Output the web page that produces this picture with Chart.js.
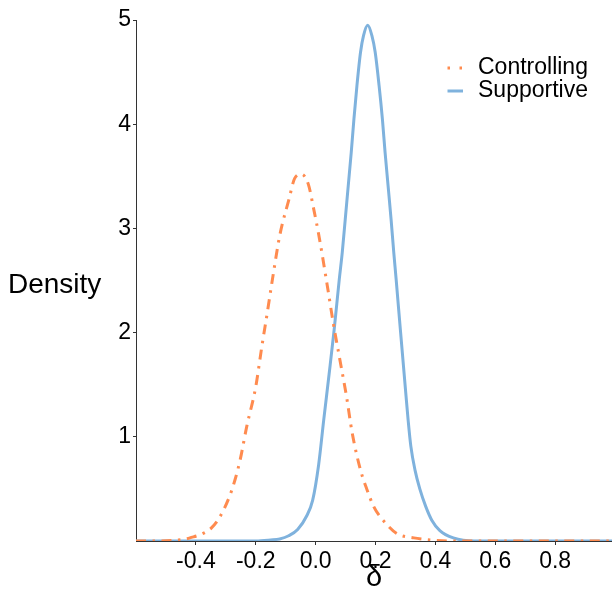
<!DOCTYPE html>
<html>
<head>
<meta charset="utf-8">
<script src="https://cdn.jsdelivr.net/npm/chart.js@4.4.1/dist/chart.umd.min.js"></script>
<style>
  html, body { margin: 0; padding: 0; background: #ffffff; }
  #wrap { width: 612px; height: 604px; }
</style>
</head>
<body>
<div id="wrap"><canvas id="c" width="612" height="604"></canvas></div>
<script>
// Posterior density of δ for the two parenting styles
const seriesNames = ['Controlling', 'Supportive'];
const seriesColors = ['#FF8B4F', '#7FB2DD'];

const controllingX = [-0.6, -0.54, -0.46, -0.42, -0.35, -0.32, -0.286, -0.269, -0.252, -0.23, -0.2, -0.18, -0.161, -0.141, -0.12, -0.089, -0.07, -0.048, -0.024, -0.006, 0.011, 0.039, 0.059, 0.081, 0.103, 0.122, 0.15, 0.172, 0.194, 0.228, 0.272, 0.328, 0.383, 0.45, 0.99];
const controllingY = [0, 0, 0.01, 0.03, 0.12, 0.23, 0.44, 0.59, 0.78, 1.1, 1.48, 1.86, 2.2, 2.57, 2.93, 3.28, 3.48, 3.52, 3.42, 3.18, 2.93, 2.45, 2.09, 1.74, 1.39, 1.04, 0.68, 0.49, 0.33, 0.19, 0.07, 0.03, 0.01, 0, 0];

const supportiveX = [-0.6, -0.2, -0.15, -0.12, -0.09, -0.06, -0.03, -0.01, 0.01, 0.027, 0.045, 0.062, 0.079, 0.089, 0.099, 0.109, 0.119, 0.128, 0.138, 0.15, 0.16, 0.174, 0.188, 0.199, 0.212, 0.223, 0.232, 0.242, 0.252, 0.261, 0.269, 0.283, 0.302, 0.309, 0.318, 0.332, 0.348, 0.368, 0.388, 0.415, 0.46, 0.53, 0.99];
const supportiveY = [0, 0, 0.01, 0.02, 0.05, 0.11, 0.24, 0.39, 0.73, 1.16, 1.6, 2.03, 2.51, 2.77, 3.09, 3.41, 3.73, 4.05, 4.37, 4.69, 4.85, 4.95, 4.85, 4.69, 4.37, 4.05, 3.73, 3.41, 3.09, 2.77, 2.51, 2.03, 1.39, 1.16, 0.91, 0.68, 0.5, 0.33, 0.2, 0.1, 0.03, 0, 0];

const xTickValues = [-0.4, -0.2, 0.0, 0.2, 0.4, 0.6, 0.8];
const yTickValues = [1, 2, 3, 4, 5];

const FONT = '"Liberation Sans", Arial, Helvetica, sans-serif';

function toPoints(xs, ys) {
  return xs.map((x, i) => ({ x: x, y: ys[i] }));
}

// Free-standing y title and the legend in the upper right
const extras = {
  id: 'extras',
  afterDraw(chart) {
    const ctx = chart.ctx;
    ctx.save();
    ctx.fillStyle = '#000000';
    ctx.textBaseline = 'middle';
    ctx.textAlign = 'left';
    ctx.font = '28px ' + FONT;
    ctx.fillText('Density', 8, 285);

    const rows = [68, 91];
    chart.data.datasets.forEach((ds, i) => {
      const y = rows[i];
      ctx.strokeStyle = ds.borderColor;
      ctx.lineWidth = 3;
      ctx.lineCap = 'butt';
      ctx.setLineDash(i === 0 ? [2.5, 9.5] : []);
      ctx.beginPath();
      ctx.moveTo(447.5, y);
      ctx.lineTo(463, y);
      ctx.stroke();
      ctx.setLineDash([]);
      ctx.fillStyle = '#000000';
      ctx.font = '23px ' + FONT;
      ctx.fillText(ds.label, 478, y);
    });
    ctx.restore();
  }
};

new Chart(document.getElementById('c'), {
  type: 'line',
  data: {
    datasets: [
      {
        label: seriesNames[0],
        data: toPoints(controllingX, controllingY),
        borderColor: seriesColors[0],
        borderWidth: 3,
        borderDash: [10, 6.5, 2.5, 6.5],
        borderCapStyle: 'butt',
        pointRadius: 0,
        fill: false,
        cubicInterpolationMode: 'monotone'
      },
      {
        label: seriesNames[1],
        data: toPoints(supportiveX, supportiveY),
        borderColor: seriesColors[1],
        borderWidth: 3,
        pointRadius: 0,
        fill: false,
        cubicInterpolationMode: 'monotone'
      }
    ]
  },
  options: {
    responsive: false,
    animation: false,
    devicePixelRatio: 1,
    layout: { padding: { top: 20, right: 0, left: 0, bottom: 0 } },
    plugins: {
      legend: { display: false },
      tooltip: { enabled: false }
    },
    scales: {
      x: {
        type: 'linear',
        min: -0.6,
        max: 0.99,
        afterBuildTicks(scale) { scale.ticks = xTickValues.map(v => ({ value: v })); },
        afterFit(scale) { scale.height = 63; },
        grid: { display: true, drawOnChartArea: false, drawTicks: true, tickLength: 4, color: '#333333' },
        border: { display: true, color: '#333333', width: 1 },
        ticks: {
          color: '#000000',
          padding: 3,
          maxRotation: 0,
          autoSkip: false,
          font: { family: FONT, size: 23 },
          callback: v => Number(v).toFixed(1)
        },
        title: {
          display: true,
          text: 'δ',
          color: '#000000',
          font: { family: FONT, size: 29 },
          padding: { top: 0, bottom: 9 }
        }
      },
      y: {
        type: 'linear',
        min: 0,
        max: 5,
        afterBuildTicks(scale) { scale.ticks = yTickValues.map(v => ({ value: v })); },
        afterFit(scale) { scale.width = 136; },
        grid: { display: true, drawOnChartArea: false, drawTicks: true, tickLength: 3, color: '#333333' },
        border: { display: true, color: '#333333', width: 1 },
        ticks: {
          color: '#000000',
          padding: 2,
          autoSkip: false,
          font: { family: FONT, size: 23 },
          callback: v => String(v)
        }
      }
    }
  },
  plugins: [extras]
});
</script>
</body>
</html>
